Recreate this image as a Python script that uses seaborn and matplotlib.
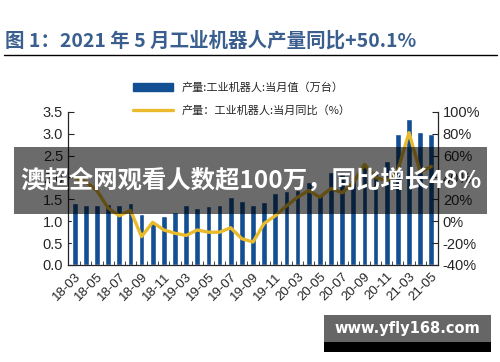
import numpy as np
import pandas as pd
import matplotlib
matplotlib.use("Agg")
import matplotlib.pyplot as plt
import seaborn as sns
from matplotlib.patches import Rectangle
from matplotlib.lines import Line2D
from matplotlib.ticker import FuncFormatter, MultipleLocator

# data
months = ["18-03", "18-04", "18-05", "18-06", "18-07", "18-08", "18-09", "18-10", "18-11", "18-12",
          "19-03", "19-04", "19-05", "19-06", "19-07", "19-08", "19-09", "19-10", "19-11", "19-12",
          "20-03", "20-04", "20-05", "20-06", "20-07", "20-08", "20-09", "20-10", "20-11", "20-12",
          "21-03", "21-04", "21-05"]
output_wt = [1.42, 1.36, 1.37, 1.40, 1.38, 1.42, 1.17, 0.97, 1.13, 1.21,
             1.37, 1.31, 1.35, 1.38, 1.56, 1.47, 1.38, 1.45, 1.65, 1.68,
             1.72, 1.90, 1.62, 2.13, 2.13, 1.95, 2.34, 2.15, 2.38, 2.99,
             3.33, 3.03, 2.99]
yoy_pct = [40, 36, 28, 12, 5, 10, -14, -1, -8, -11,
           -13, -8, -10, -10, -6, -16, -19, -2, 5, 14,
           22, 28, 22, 30, 26, 35, 52, 40, 37, 47,
           81, 45, 50.1]
tick_labels = months[::2]

title = "图 1：2021 年 5 月工业机器人产量同比+50.1%"
bar_name = "产量:工业机器人:当月值（万台）"
line_name = "产量：工业机器人:当月同比（%）"
banner = "澳超全网观看人数超100万，同比增长48%"
mark = "www.yfly168.com"

df = pd.DataFrame({"month": months, "val": output_wt, "yoy": yoy_pct})
df["pos"] = np.arange(len(df))

sns.set_style("ticks")
plt.rcParams["font.family"] = ["Noto Sans CJK SC", "DejaVu Sans"]
plt.rcParams["axes.unicode_minus"] = False
cjk = ["Noto Sans CJK SC", "DejaVu Sans"]
latin = ["Liberation Sans", "DejaVu Sans"]

BLUE = "#134f93"
GOLD = "#e9bb2c"

fig = plt.figure(figsize=(5, 3.62), dpi=100)
ax = fig.add_axes([0.136, 0.268, 0.74, 0.423])

sns.barplot(data=df, x="pos", y="val", color=BLUE, width=0.52, saturation=1, ax=ax)
ax.set_xlim(-0.6, len(df) - 0.4)
ax.set_ylim(0, 3.5)
ax.yaxis.set_major_locator(MultipleLocator(0.5))
ax.yaxis.set_major_formatter(FuncFormatter(lambda v, p: f"{v:.1f}"))
ax.set_xticks(df["pos"][::2])
ax.set_xticklabels(tick_labels, rotation=45, ha="right", rotation_mode="anchor", fontsize=9.5,
                   family=latin)
ax.set_xticks(df["pos"].values[:-1] + 0.5, minor=True)
ax.tick_params(axis="x", which="major", length=0, pad=4)
ax.tick_params(axis="x", which="minor", direction="in", length=3, width=0.6)
ax.tick_params(axis="y", direction="in", length=4, width=0.8, labelsize=10.5)
for lab in ax.get_yticklabels():
    lab.set_family(latin)
ax.set_xlabel("")
ax.set_ylabel("")
for s in ["left", "bottom"]:
    ax.spines[s].set_linewidth(0.9)
ax.spines["top"].set_visible(False)
ax.spines["right"].set_visible(False)

ax2 = ax.twinx()
sns.lineplot(data=df, x="pos", y="yoy", color=GOLD, linewidth=2.4, ax=ax2)
ax2.set_ylim(-40, 100)
ax2.yaxis.set_major_locator(MultipleLocator(20))
ax2.yaxis.set_major_formatter(FuncFormatter(lambda v, p: f"{v:.0f}%"))
ax2.tick_params(axis="y", direction="in", length=4, width=0.8, labelsize=10.5)
for lab in ax2.get_yticklabels():
    lab.set_family(latin)
ax2.set_ylabel("")
ax2.spines["right"].set_linewidth(0.9)
ax2.spines["top"].set_visible(False)
ax2.spines["left"].set_visible(False)
ax2.spines["bottom"].set_visible(False)

# legend above the plot
handles = [Rectangle((0, 0), 1, 1, color=BLUE), Line2D([0], [0], color=GOLD, lw=2.4)]
fig.legend(handles, [bar_name, line_name], loc="upper left", bbox_to_anchor=(0.245, 0.80),
           frameon=False, handlelength=3.6, handleheight=0.7, labelspacing=1.1,
           prop={"family": cjk, "size": 8})

# title and rule
fig.text(0.010, 0.888, title, fontsize=14, fontweight="bold", color="#3a5f8e",
         family=cjk, va="center", ha="left")
fig.add_artist(Line2D([0.008, 0.994], [0.848, 0.848], color="black", lw=1.0))

# banner overlay
fig.add_artist(Rectangle((0.028, 0.409), 0.946, 0.185, transform=fig.transFigure,
                         facecolor="black", alpha=0.58, edgecolor="none", zorder=10))
fig.text(0.501, 0.500, banner, fontsize=17.6, fontweight="bold", color="white",
         family=cjk, ha="center", va="center", zorder=11)

# watermark box
fig.add_artist(Rectangle((0.648, 0.052), 0.334, 0.078, transform=fig.transFigure,
                         facecolor="#666666", edgecolor="none", zorder=10))
fig.add_artist(Rectangle((0.648, 0.028), 0.334, 0.026, transform=fig.transFigure,
                         facecolor="black", edgecolor="none", zorder=10))
fig.text(0.815, 0.092, mark, fontsize=10.5, fontweight="bold", color="white",
         family=["DejaVu Sans"], ha="center", va="center", zorder=11)

fig.savefig("out.png", dpi=100)
